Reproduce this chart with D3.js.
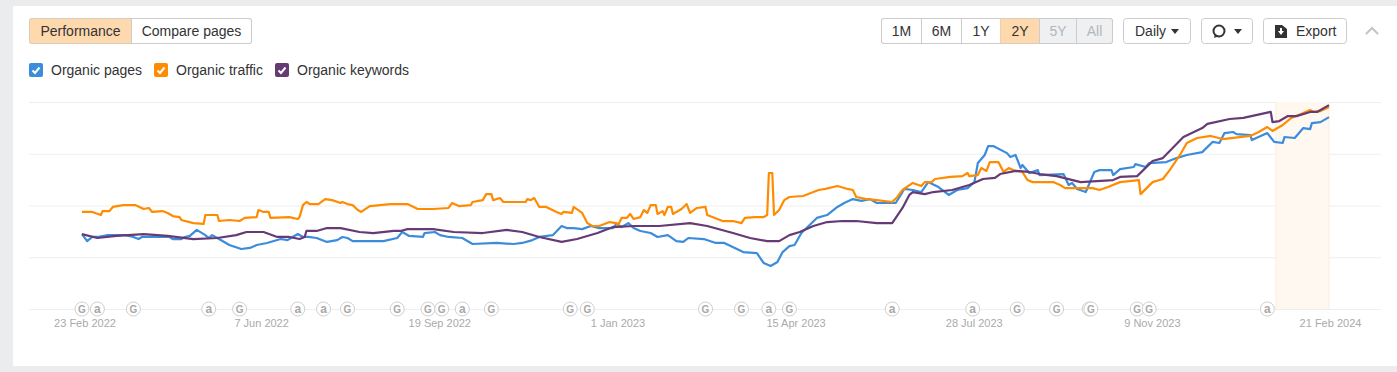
<!DOCTYPE html>
<html>
<head>
<meta charset="utf-8">
<script src="https://cdn.jsdelivr.net/npm/d3@7"></script>
<style>
  html, body { margin: 0; padding: 0; background: #ebecee; overflow: hidden; }
  text { font-family: "Liberation Sans", Arial, sans-serif; }
</style>
</head>
<body>
<div id="chart"></div>
<script>
// [days since 23 Feb 2022, index value], 0-100 between bottom and top grid line
const organicPages = [[0,36.2],[3,32.8],[6,34.8],[9,34.8],[15,35.7],[25,35.7],[30,34.8],[33,33.8],[35,34.8],[51,34.8],[53,33.8],[58,33.8],[60,34.8],[63,35.3],[67,38.2],[72,35.7],[74,34.3],[76,35.7],[79,34.3],[86,30.9],[93,29],[98,29.5],[102,30.9],[108,31.9],[116,33.8],[120,33.3],[123,34.8],[126,36.2],[129,34.8],[132,34.8],[137,34.3],[143,32.4],[149,33.3],[152,34.8],[155,34.3],[158,32.8],[176,32.8],[184,34.3],[187,37.2],[191,35.3],[199,34.8],[200,36.7],[206,37.2],[209,35.7],[214,34.8],[222,34.3],[228,31.4],[242,31.9],[252,31.4],[257,31.9],[263,33.3],[267,34.8],[275,35.7],[280,40.1],[283,39.1],[287,39.1],[292,38.6],[297,40.1],[302,39.1],[310,39.1],[312,41.1],[315,39.6],[319,41.5],[322,39.1],[326,37.7],[332,36.7],[336,34.8],[342,35.7],[347,32.8],[351,32.4],[354,34.3],[363,33.8],[370,31.9],[375,31.9],[386,27.5],[394,27],[396,24.6],[398,22.2],[402,20.8],[406,22.7],[409,27.5],[413,30.4],[416,30.9],[420,36.7],[429,44],[435,45.4],[441,49.3],[445,51.2],[450,53.1],[455,52.2],[460,53.1],[464,51.2],[475,51.2],[478,55.1],[480,58],[485,57.5],[490,56.5],[494,61.3],[500,58.9],[506,55.1],[511,57.5],[517,58.4],[521,61.3],[523,70.5],[527,74.4],[529,78.7],[532,78.7],[540,75.3],[542,73.4],[545,74.4],[548,68.1],[549,69.6],[553,65.7],[558,67.1],[559,64.7],[573,65.2],[576,59.9],[578,60.9],[581,58],[586,56.5],[591,66.2],[594,67.1],[601,67.1],[602,64.7],[606,67.6],[614,68.6],[615,70],[621,68.6],[623,70.5],[633,71],[639,72.9],[645,74.4],[654,75.8],[660,80.7],[664,80.2],[667,85],[672,85.5],[674,84.5],[682,84],[683,81.6],[692,85],[696,80.7],[701,80.2],[702,83.1],[708,82.6],[713,87.4],[717,86.9],[718,89.8],[723,90.3],[728,92.7]];

const organicTraffic = [[0,46.9],[6,46.9],[11,45.4],[12,47.3],[16,47.3],[18,49.3],[24,50.2],[31,50.2],[36,48.3],[39,48.8],[41,46.9],[47,47.3],[50,46.4],[53,44.9],[57,44.4],[58,43],[65,41.5],[71,41.1],[72,45.4],[79,45.4],[80,42.5],[86,43],[92,42.5],[95,44],[102,44.4],[103,47.8],[106,46.9],[109,46.9],[110,44],[121,44.4],[126,43.5],[127,44.4],[129,50.2],[131,51.7],[133,50.7],[138,50.7],[142,53.1],[146,52.6],[151,51.2],[152,51.7],[155,50.7],[158,50.2],[161,47.8],[163,46.9],[168,49.7],[180,50.7],[190,50.7],[196,48.3],[205,48.3],[214,48.8],[216,51.2],[220,49.7],[227,50.2],[228,51.7],[234,52.6],[236,55.5],[239,55.5],[240,52.6],[244,53.6],[246,51.7],[259,51.7],[260,53.1],[262,52.6],[264,53.6],[267,49.3],[271,49.3],[277,46.9],[280,45.9],[281,46.9],[286,46.4],[287,49.3],[292,46.4],[295,41.5],[298,40.1],[302,40.1],[308,42],[312,41.5],[313,40.6],[315,44],[318,44],[320,45.9],[322,43.5],[326,44.4],[328,47.8],[330,46.4],[332,50.2],[335,50.2],[336,45.9],[339,47.3],[340,45.4],[342,49.3],[344,49.3],[345,45.9],[347,46.9],[350,48.3],[353,50.7],[355,46.4],[359,48.8],[364,49.3],[365,45.4],[374,42.5],[380,42.5],[385,41.5],[387,44],[393,44.4],[398,44.4],[400,45.4],[401,65.7],[403,65.7],[404,45.4],[407,47.8],[410,52.6],[413,54.1],[421,54.6],[430,57.5],[434,58],[441,59.4],[447,58],[450,57.5],[452,54.1],[458,53.1],[464,52.6],[473,51.7],[476,54.1],[479,57.5],[485,60.9],[490,59.4],[492,61.3],[496,61.3],[498,62.8],[507,63.8],[514,64.2],[517,65.7],[518,64.2],[523,64.7],[525,68.1],[528,66.7],[530,71],[535,71],[538,66.2],[541,68.1],[545,66.7],[549,66.2],[552,62.3],[555,61.3],[567,61.3],[571,59.9],[574,58.4],[581,58.4],[590,58.4],[594,57.5],[599,58.9],[606,61.3],[617,62.3],[618,55.5],[625,61.3],[631,62.8],[635,67.1],[641,74.4],[645,80.2],[651,82.6],[659,83.6],[666,82.1],[682,83.6],[687,85.5],[692,87.9],[695,86],[701,88.9],[706,92.3],[713,94.7],[717,96.1],[719,95.2],[723,95.6],[728,97.6]];

const organicKeywords = [[0,36.2],[9,34.3],[20,35.3],[36,36.2],[50,35.3],[65,33.8],[79,34.3],[90,35.7],[96,37.2],[106,37.2],[114,34.8],[121,34.8],[127,33.8],[130,34.8],[131,37.7],[137,37.7],[143,39.1],[151,39.1],[162,37.2],[170,36.7],[182,37.7],[186,37.7],[190,38.6],[205,38.6],[217,37.2],[234,36.7],[248,38.2],[257,37.2],[267,34.8],[280,32.4],[289,33.8],[301,36.7],[310,39.6],[322,40.1],[337,40.1],[355,41.5],[365,40.1],[380,36.7],[390,34.3],[400,32.8],[407,32.8],[413,35.7],[419,37.2],[427,40.1],[435,42],[444,42.5],[452,42.5],[464,41.5],[473,41.5],[479,48.8],[483,55.1],[485,56.5],[492,55.5],[497,56.5],[508,57.5],[518,59.9],[526,62.8],[533,63.3],[536,65.2],[545,66.7],[553,66.2],[559,65.2],[569,64.2],[583,61.3],[602,62.3],[606,63.8],[616,64.2],[625,71.5],[631,72.9],[643,83.1],[654,87.4],[657,89.4],[670,91.8],[678,92.3],[694,95.2],[695,90.3],[699,90.8],[704,93.2],[709,93.2],[717,95.2],[721,95.2],[728,98.5]];

const tickLabels = ["23 Feb 2022", "7 Jun 2022", "19 Sep 2022", "1 Jan 2023", "15 Apr 2023", "28 Jul 2023", "9 Nov 2023", "21 Feb 2024"];
const gridValues = [0, 25, 50, 75, 100];

// update markers on the axis: G = Google, a = Ahrefs
const markerDays = [0, 9, 30, 74, 92, 126, 141, 155, 184, 202, 210, 222, 239, 285, 295, 364, 385, 401, 413, 473, 520, 546, 569, 588, 589, 616, 623, 692];
const markerKinds = ["G", "a", "G", "a", "G", "a", "a", "G", "G", "G", "G", "a", "G", "G", "G", "G", "G", "a", "G", "a", "a", "G", "G", "G", "G", "G", "G", "a"];

const highlightDays = [697, 728];

const viewTabs = ["Performance", "Compare pages"];
const rangeTabs = ["1M", "6M", "1Y", "2Y", "5Y", "All"];
const legendNames = ["Organic pages", "Organic traffic", "Organic keywords"];
const seriesColors = ["#3b8cdb", "#ff8c00", "#663a75"];

const svg = d3.select("#chart").append("svg")
  .attr("width", 1397)
  .attr("height", 372)
  .style("display", "block");

// white card
svg.append("rect")
  .attr("x", 13).attr("y", 6)
  .attr("width", 1384).attr("height", 360)
  .attr("fill", "#fff");

const parseLabel = d3.utcParse("%-d %b %Y");
const startDate = parseLabel(tickLabels[0]);
const dayToDate = d => d3.utcDay.offset(startDate, d);

const x = d3.scaleUtc()
  .domain([startDate, parseLabel(tickLabels[tickLabels.length - 1])])
  .range([82, 1329]);

const y = d3.scaleLinear()
  .domain([0, 100])
  .range([309, 102]);

// grid lines
const grid = svg.append("g")
  .attr("transform", "translate(29,0)")
  .call(d3.axisLeft(y).tickValues(gridValues).tickSize(-1352).tickFormat(""));
grid.select(".domain").remove();
grid.selectAll("line").attr("stroke", "#eeeeee");

// last week highlight
svg.append("rect")
  .attr("x", x(dayToDate(highlightDays[0])))
  .attr("y", y(100))
  .attr("width", x(dayToDate(highlightDays[1])) - x(dayToDate(highlightDays[0])))
  .attr("height", y(0) - y(100))
  .attr("fill", "#fff8f1");
highlightDays.forEach(d => {
  svg.append("line")
    .attr("x1", x(dayToDate(d))).attr("x2", x(dayToDate(d)))
    .attr("y1", y(100)).attr("y2", y(0))
    .attr("stroke", "#fdebd8");
});

// date axis
const xAxis = svg.append("g")
  .attr("transform", "translate(0,309)")
  .call(d3.axisBottom(x)
    .tickValues(tickLabels.map(parseLabel))
    .tickSize(0)
    .tickPadding(10)
    .tickFormat((d, i) => tickLabels[i]));
xAxis.select(".domain").remove();
xAxis.selectAll("text")
  .attr("fill", "#aaaaaa")
  .attr("dx", (d, i) => i === 0 ? 2.5 : 1)
  .style("font-size", "11px")
  .style("font-family", '"Liberation Sans", Arial, sans-serif');

// lines
const line = d3.line()
  .x(d => x(dayToDate(d[0])))
  .y(d => y(d[1]));

[organicPages, organicTraffic, organicKeywords].forEach((points, i) => {
  svg.append("path")
    .datum(points)
    .attr("fill", "none")
    .attr("stroke", seriesColors[i])
    .attr("stroke-width", 2.2)
    .attr("stroke-linejoin", "round")
    .attr("d", line);
});

// G / a markers
const markers = svg.append("g")
  .selectAll("g")
  .data(markerDays)
  .enter().append("g")
  .attr("transform", d => "translate(" + x(dayToDate(d)) + "," + y(0) + ")");

markers.append("circle")
  .attr("r", 7)
  .attr("fill", "#fff")
  .attr("stroke", "#cfcfcf");

markers.append("text")
  .attr("text-anchor", "middle")
  .attr("y", (d, i) => markerKinds[i] === "a" ? 3.5 : 3.8)
  .attr("fill", "#a8a8a8")
  .style("font-size", (d, i) => markerKinds[i] === "a" ? "12px" : "10px")
  .style("font-weight", "bold")
  .text((d, i) => markerKinds[i]);

// segmented buttons, clipped so the outer corners come out round
function drawTabs(id, labels, edges, active, disabled) {
  const x0 = edges[0], x1 = edges[edges.length - 1];
  svg.append("clipPath").attr("id", id)
    .append("rect")
    .attr("x", x0).attr("y", 18)
    .attr("width", x1 - x0 + 1).attr("height", 26)
    .attr("rx", 3);
  const group = svg.append("g").attr("clip-path", "url(#" + id + ")");
  labels.forEach((label, i) => {
    group.append("rect")
      .attr("x", edges[i] + 0.5).attr("y", 18.5)
      .attr("width", edges[i + 1] - edges[i]).attr("height", 25)
      .attr("fill", i === active ? "#fed9ae" : (disabled.includes(i) ? "#eff0f2" : "#fff"))
      .attr("stroke", i === active ? "#f5cfa3" : "#cccccc");
    svg.append("text")
      .attr("x", (edges[i] + edges[i + 1]) / 2 + 0.5)
      .attr("y", 36)
      .attr("text-anchor", "middle")
      .attr("fill", disabled.includes(i) ? "#b4b6ba" : "#333")
      .style("font-size", "14px")
      .text(label);
  });
  svg.append("rect")
    .attr("x", x0 + 0.5).attr("y", 18.5)
    .attr("width", x1 - x0).attr("height", 25)
    .attr("rx", 3)
    .attr("fill", "none")
    .attr("stroke", "#cccccc")
    .attr("stroke-opacity", 0.7);
}
drawTabs("view-tabs", viewTabs, [29, 131, 251], 0, []);
drawTabs("range-tabs", rangeTabs, [881, 921, 961, 1000, 1039, 1076, 1112], 3, [4, 5]);

// other buttons
function drawButton(x0, x1) {
  svg.append("rect")
    .attr("x", x0 + 0.5).attr("y", 18.5)
    .attr("width", x1 - x0).attr("height", 25)
    .attr("rx", 3)
    .attr("fill", "#fff")
    .attr("stroke", "#cccccc");
}
function drawCaret(cx) {
  svg.append("path")
    .attr("d", "M" + (cx - 4) + ",29 L" + (cx + 4) + ",29 L" + cx + ",34 Z")
    .attr("fill", "#333");
}

drawButton(1123, 1190);
svg.append("text").attr("x", 1135).attr("y", 36).attr("fill", "#333").style("font-size", "14px").text("Daily");
drawCaret(1175);

drawButton(1201, 1252);
svg.append("circle").attr("cx", 1219).attr("cy", 31).attr("r", 5.5).attr("fill", "none").attr("stroke", "#333").attr("stroke-width", 2);
svg.append("path").attr("d", "M1215,34 L1214,38 L1219,36 Z").attr("fill", "#333");
drawCaret(1238);

drawButton(1263, 1346);
svg.append("path").attr("d", "M1275,25 L1282,25 L1287,29 L1287,38 L1275,38 Z").attr("fill", "#333");
svg.append("path").attr("d", "M1280,28 L1282,28 L1282,31 L1284,31 L1281,35 L1278,31 L1280,31 Z").attr("fill", "#fff");
svg.append("text").attr("x", 1296).attr("y", 36).attr("fill", "#333").style("font-size", "14px").text("Export");

// collapse chevron
svg.append("path")
  .attr("d", "M1366,34 L1372,28 L1378,34")
  .attr("fill", "none")
  .attr("stroke", "#c4c4c4")
  .attr("stroke-width", 2);

// legend checkboxes
const legendBoxX = [29, 154, 275];
legendNames.forEach((name, i) => {
  const row = svg.append("g").attr("transform", "translate(" + legendBoxX[i] + ",63)");
  row.append("rect")
    .attr("width", 14).attr("height", 14).attr("rx", 2)
    .attr("fill", seriesColors[i]);
  row.append("path")
    .attr("d", "M3.5,7.5 L6,10 L10.5,4.5")
    .attr("fill", "none")
    .attr("stroke", "#fff")
    .attr("stroke-width", 2);
  row.append("text")
    .attr("x", 22).attr("y", 12)
    .attr("fill", "#333")
    .style("font-size", "14px")
    .text(name);
});
</script>
</body>
</html>
